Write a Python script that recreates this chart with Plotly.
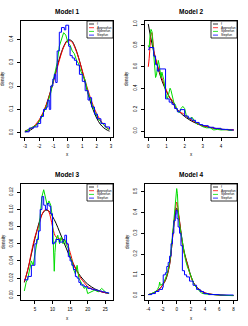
import plotly.graph_objects as go

# ---------------- DATA ----------------
series_names = ["f", "Approxfun", "Splinefun", "Stepfun"]
series_colors = ["#000000", "#FF0000", "#00DD00", "#0000FF"]
titles = ["Model 1", "Model 2", "Model 3", "Model 4"]

# Model 1
m1_x_smooth = [-3.0, -2.75, -2.5, -2.25, -2.0, -1.75, -1.5, -1.25, -1.0, -0.75, -0.5, -0.25,
               0.0, 0.25, 0.5, 0.75, 1.0, 1.25, 1.5, 1.75, 2.0, 2.25, 2.5, 2.75, 2.9]
m1_f = [0.004, 0.008, 0.016, 0.030, 0.050, 0.080, 0.120, 0.170, 0.226, 0.284, 0.336, 0.375,
        0.397, 0.394, 0.366, 0.320, 0.262, 0.202, 0.146, 0.099, 0.063, 0.037, 0.021, 0.011, 0.007]
m1_approx = [0.008, 0.014, 0.022, 0.036, 0.056, 0.085, 0.122, 0.168, 0.220, 0.276, 0.330, 0.372,
             0.394, 0.390, 0.362, 0.318, 0.266, 0.212, 0.162, 0.118, 0.082, 0.055, 0.035, 0.021, 0.015]
m1_x_spline = [-3.0, -2.85, -2.7, -2.55, -2.4, -2.25, -2.1, -1.95, -1.8, -1.65, -1.5, -1.35, -1.2,
               -1.05, -0.9, -0.75, -0.6, -0.45, -0.3, -0.15, 0.0, 0.15, 0.3, 0.45, 0.6, 0.75, 0.9,
               1.05, 1.2, 1.35, 1.5, 1.65, 1.8, 1.95, 2.1, 2.25, 2.4, 2.55, 2.7, 2.85]
m1_spline = [0.006, 0.010, 0.016, 0.022, 0.026, 0.030, 0.040, 0.055, 0.070, 0.095, 0.112, 0.140,
             0.170, 0.215, 0.252, 0.300, 0.370, 0.400, 0.428, 0.418, 0.385, 0.375, 0.350, 0.338,
             0.310, 0.295, 0.262, 0.245, 0.225, 0.180, 0.150, 0.130, 0.100, 0.080, 0.060, 0.050,
             0.038, 0.030, 0.020, 0.014]
m1_x_step = [-3.0, -2.7, -2.4, -2.1, -1.9, -1.7, -1.5, -1.4, -1.3, -1.2, -1.05, -0.95, -0.85,
             -0.75, -0.6, -0.45, -0.25, -0.15, 0.05, 0.15, 0.3, 0.45, 0.6, 0.8, 1.0, 1.2, 1.4,
             1.5, 1.65, 1.85, 2.05, 2.3, 2.6, 2.9]
m1_step = [0.004, 0.020, 0.025, 0.040, 0.070, 0.100, 0.110, 0.140, 0.100, 0.200, 0.230, 0.250,
           0.215, 0.350, 0.430, 0.450, 0.440, 0.460, 0.370, 0.330, 0.320, 0.310, 0.290, 0.250,
           0.220, 0.180, 0.140, 0.150, 0.110, 0.080, 0.060, 0.040, 0.025, 0.015]

# Model 2
m2_x_f = [0.0, 0.1, 0.2, 0.3, 0.4, 0.5, 0.75, 1.0, 1.25, 1.5, 1.75, 2.0, 2.5, 3.0, 3.5, 4.0, 4.5, 4.7]
m2_f = [1.0, 0.905, 0.82, 0.74, 0.67, 0.61, 0.47, 0.37, 0.29, 0.22, 0.174, 0.135, 0.082, 0.05,
        0.03, 0.018, 0.011, 0.009]
m2_x_approx = [0.0, 0.05, 0.1, 0.15, 0.2, 0.25, 0.3, 0.4, 0.5, 0.6, 0.7, 0.8, 0.9, 1.0, 1.1, 1.2,
               1.3, 1.4, 1.5, 1.6, 1.7, 1.8, 1.9, 2.0, 2.2, 2.4, 2.6, 2.8, 3.0, 3.2, 3.4, 3.6,
               3.8, 4.0, 4.3, 4.7]
m2_approx = [0.60, 0.68, 0.80, 0.90, 0.92, 0.85, 0.76, 0.68, 0.62, 0.56, 0.52, 0.47, 0.42, 0.38,
             0.34, 0.31, 0.29, 0.26, 0.22, 0.20, 0.18, 0.17, 0.165, 0.15, 0.12, 0.10, 0.08, 0.06,
             0.045, 0.04, 0.035, 0.025, 0.02, 0.015, 0.012, 0.01]
m2_x_spline = [0.0, 0.05, 0.1, 0.15, 0.2, 0.25, 0.3, 0.35, 0.4, 0.45, 0.5, 0.55, 0.6, 0.65, 0.7,
               0.75, 0.8, 0.85, 0.9, 0.95, 1.0, 1.05, 1.1, 1.15, 1.2, 1.25, 1.3, 1.35, 1.4, 1.5,
               1.6, 1.7, 1.8, 1.9, 2.0, 2.1, 2.2, 2.3, 2.4, 2.5, 2.6, 2.7, 2.8, 2.9, 3.0, 3.2,
               3.4, 3.6, 3.8, 4.0, 4.3, 4.6]
m2_spline = [0.80, 0.78, 0.90, 0.95, 0.93, 0.82, 0.70, 0.55, 0.50, 0.52, 0.60, 0.66, 0.62, 0.55,
             0.50, 0.55, 0.52, 0.48, 0.42, 0.35, 0.32, 0.30, 0.33, 0.38, 0.40, 0.38, 0.33, 0.28,
             0.27, 0.24, 0.19, 0.17, 0.21, 0.23, 0.21, 0.14, 0.12, 0.11, 0.13, 0.10, 0.08, 0.06,
             0.07, 0.05, 0.04, 0.03, 0.03, 0.01, 0.015, 0.01, 0.012, 0.005]
m2_x_step = [0.0, 0.05, 0.3, 0.4, 0.5, 0.6, 0.95, 1.15, 1.3, 1.45, 1.6, 1.75, 2.0, 2.2, 2.4, 2.6,
             2.8, 3.0, 3.3, 3.6, 4.0, 4.4, 4.7]
m2_step = [0.76, 0.78, 0.70, 0.62, 0.56, 0.58, 0.30, 0.27, 0.25, 0.21, 0.18, 0.20, 0.14, 0.12,
           0.10, 0.08, 0.06, 0.05, 0.035, 0.025, 0.015, 0.01, 0.01]

# Model 3
m3_x_f = [2, 3, 4, 5, 6, 7, 8, 9, 10, 11, 12, 13, 14, 15, 16, 17, 18, 19, 20, 21, 22, 23, 24, 25, 26]
m3_f = [0.015, 0.030, 0.048, 0.066, 0.082, 0.094, 0.099, 0.098, 0.092, 0.084, 0.074, 0.064,
        0.054, 0.044, 0.036, 0.028, 0.022, 0.017, 0.013, 0.010, 0.0075, 0.0055, 0.004, 0.003, 0.002]
m3_x_approx = [2, 3, 4, 5, 6, 7, 7.5, 8, 8.5, 9, 9.5, 10, 10.5, 11, 12, 13, 14, 15, 16, 17, 18,
               19, 20, 21, 22, 23, 24, 25, 26]
m3_approx = [0.016, 0.030, 0.050, 0.068, 0.080, 0.094, 0.098, 0.100, 0.100, 0.097, 0.090, 0.080,
             0.072, 0.068, 0.066, 0.065, 0.062, 0.050, 0.036, 0.028, 0.020, 0.015, 0.010, 0.008,
             0.006, 0.005, 0.004, 0.003, 0.002]
m3_x_spline = [2, 2.5, 3, 3.5, 4, 4.5, 5, 5.5, 6, 6.5, 7, 7.5, 8, 8.5, 9, 9.5, 10, 10.3, 10.5,
               10.7, 11, 11.5, 12, 12.5, 13, 13.5, 14, 14.5, 15, 15.5, 16, 16.5, 17, 17.5, 18,
               18.5, 19, 19.5, 20, 21, 22, 23, 24, 25, 26]
m3_spline = [0.005, 0.015, 0.020, 0.030, 0.040, 0.035, 0.050, 0.060, 0.070, 0.090, 0.115, 0.123,
             0.115, 0.105, 0.110, 0.105, 0.090, 0.060, 0.028, 0.050, 0.065, 0.070, 0.060, 0.068,
             0.060, 0.065, 0.058, 0.055, 0.045, 0.040, 0.030, 0.025, 0.035, 0.020, 0.015, 0.012,
             0.008, 0.010, 0.002, 0.004, 0.006, 0.004, 0.008, 0.004, 0.002]
m3_x_step = [2, 3, 4, 5, 5.5, 6, 6.5, 7, 7.5, 8, 8.5, 9, 9.5, 10, 10.5, 11, 12, 13, 13.5, 14,
             14.5, 15, 15.5, 16, 16.5, 17, 17.5, 18, 19, 20, 21, 22, 23, 24, 25, 26]
m3_step = [0.018, 0.022, 0.035, 0.060, 0.065, 0.075, 0.100, 0.115, 0.105, 0.100, 0.107, 0.104,
           0.095, 0.060, 0.062, 0.065, 0.062, 0.065, 0.070, 0.060, 0.045, 0.040, 0.035, 0.030,
           0.022, 0.020, 0.015, 0.012, 0.010, 0.008, 0.007, 0.006, 0.005, 0.004, 0.003, 0.002]

# Model 4
m4_x_f = [-4, -3.5, -3, -2.5, -2, -1.5, -1, -0.75, -0.5, -0.25, 0, 0.25, 0.5, 0.75, 1, 1.25, 1.5,
          2, 2.5, 3, 3.5, 4, 5, 6, 7, 8]
m4_f = [0.005, 0.010, 0.017, 0.030, 0.050, 0.080, 0.150, 0.220, 0.310, 0.380, 0.420, 0.390,
        0.330, 0.270, 0.220, 0.185, 0.155, 0.095, 0.055, 0.035, 0.022, 0.013, 0.006, 0.003,
        0.001, 0.0005]
m4_approx = [0.005, 0.010, 0.018, 0.030, 0.050, 0.085, 0.150, 0.220, 0.310, 0.390, 0.450, 0.400,
             0.330, 0.260, 0.210, 0.180, 0.150, 0.090, 0.055, 0.033, 0.020, 0.012, 0.006, 0.003,
             0.001, 0.0005]
m4_x_spline = [-4, -3.5, -3, -2.7, -2.5, -2.4, -2.3, -2, -1.75, -1.5, -1.25, -1, -0.75, -0.5,
               -0.3, -0.15, 0, 0.1, 0.25, 0.5, 0.75, 1, 1.25, 1.5, 2, 2.5, 3, 3.5, 4, 4.5, 5,
               6, 7, 8]
m4_spline = [0.005, 0.010, 0.020, 0.030, 0.045, 0.065, 0.050, 0.055, 0.070, 0.090, 0.120, 0.160,
             0.230, 0.320, 0.400, 0.480, 0.515, 0.490, 0.380, 0.320, 0.270, 0.200, 0.170, 0.140,
             0.090, 0.050, 0.030, 0.012, 0.008, 0.006, 0.005, 0.003, 0.001, 0.0]
m4_x_step = [-4, -3.5, -3, -2.5, -2, -1.9, -1.6, -1.4, -1.2, -1, -0.8, -0.6, -0.4, -0.2, -0.1,
             0.05, 0.2, 0.4, 0.6, 0.8, 1.1, 1.4, 1.8, 2.3, 2.8, 3.3, 3.8, 4.5, 6, 8]
m4_step = [0.005, 0.010, 0.020, 0.030, 0.040, 0.100, 0.110, 0.140, 0.160, 0.190, 0.250, 0.300,
           0.360, 0.390, 0.410, 0.370, 0.330, 0.300, 0.240, 0.120, 0.100, 0.090, 0.070, 0.050,
           0.030, 0.020, 0.010, 0.005, 0.003, 0.002]

x_ticks = [[-3, -2, -1, 0, 1, 2, 3], [0, 1, 2, 3, 4], [5, 10, 15, 20, 25], [-4, -2, 0, 2, 4, 6, 8]]
y_ticks = [[0.0, 0.1, 0.2, 0.3, 0.4], [0.0, 0.2, 0.4, 0.6, 0.8, 1.0],
           [0.00, 0.02, 0.04, 0.06, 0.08, 0.10, 0.12], [0.0, 0.1, 0.2, 0.3, 0.4, 0.5]]
y_formats = [".1f", ".1f", ".2f", ".1f"]
x_ranges = [[-3.27, 3.14], [-0.18, 4.88], [1.05, 27.2], [-4.47, 8.5]]
y_ranges = [[-0.018, 0.478], [-0.056, 1.028], [-0.0055, 0.1297], [-0.021, 0.537]]

models = [
    [(m1_x_smooth, m1_f), (m1_x_smooth, m1_approx), (m1_x_spline, m1_spline), (m1_x_step, m1_step)],
    [(m2_x_f, m2_f), (m2_x_approx, m2_approx), (m2_x_spline, m2_spline), (m2_x_step, m2_step)],
    [(m3_x_f, m3_f), (m3_x_approx, m3_approx), (m3_x_spline, m3_spline), (m3_x_step, m3_step)],
    [(m4_x_f, m4_f), (m4_x_f, m4_approx), (m4_x_spline, m4_spline), (m4_x_step, m4_step)],
]

# ---------------- LAYOUT ----------------
W, H = 248, 326
panels_px = [(21, 21, 113, 137), (145, 21, 237, 137), (21, 184, 113, 300), (145, 184, 237, 300)]
FONT = "Liberation Sans"


def px(x):
    return x / W


def py(y):
    return 1 - y / H


fig = go.Figure()
shapes = []
annotations = []
layout_axes = {}

for i, (L, T, R, B) in enumerate(panels_px):
    n = i + 1
    xa = "x" if n == 1 else f"x{n}"
    ya = "y" if n == 1 else f"y{n}"
    for j, (xs, ys) in enumerate(models[i]):
        fig.add_trace(go.Scatter(
            x=xs, y=ys, mode="lines", xaxis=xa, yaxis=ya, showlegend=False,
            name=series_names[j],
            line=dict(color=series_colors[j], width=1,
                      shape="hv" if j == 3 else ("spline" if j in (0, 1) else "linear")),
        ))
    axis_common = dict(showgrid=False, zeroline=False, showline=True, linecolor="#000000",
                       linewidth=1, mirror=True, ticks="outside", ticklen=3, tickwidth=1,
                       tickcolor="#000000", tickfont=dict(family=FONT, size=4.5, color="#000000"))
    layout_axes[("xaxis" if n == 1 else f"xaxis{n}")] = dict(
        axis_common, domain=[px(L), px(R)], range=x_ranges[i], anchor=ya,
        tickvals=x_ticks[i], ticktext=[str(v) for v in x_ticks[i]], ticklabelstandoff=2)
    layout_axes[("yaxis" if n == 1 else f"yaxis{n}")] = dict(
        axis_common, domain=[py(B), py(T)], range=y_ranges[i], anchor=xa,
        tickvals=y_ticks[i], tickformat=y_formats[i], tickangle=-90, ticklabelstandoff=2)

    # titles and axis labels
    centered = dict(xref="paper", yref="paper", showarrow=False,
                    xanchor="center", yanchor="middle")
    annotations.append(dict(centered, x=px((L + R) / 2), y=py(T - 10),
                            text=f"<b>{titles[i]}</b>",
                            font=dict(family=FONT, size=6.5, color="#000000")))
    annotations.append(dict(centered, x=px((L + R) / 2), y=py(B + 18), text="x",
                            font=dict(family=FONT, size=4.5, color="#000000")))
    annotations.append(dict(centered, x=px(L - 18), y=py((T + B) / 2), text="density",
                            textangle=-90,
                            font=dict(family=FONT, size=4.5, color="#000000")))

    # legend box
    lx0, ly0, lx1, ly1 = R - 26, T, R, T + 17
    shapes.append(dict(type="rect", xref="paper", yref="paper", x0=px(lx0), x1=px(lx1),
                       y0=py(ly1), y1=py(ly0), line=dict(color="#000000", width=0.8),
                       fillcolor="white", layer="above"))
    for j, name in enumerate(series_names):
        yy = ly0 + 3 + j * 3.7
        shapes.append(dict(type="line", xref="paper", yref="paper", x0=px(lx0 + 2),
                           x1=px(lx0 + 7), y0=py(yy), y1=py(yy),
                           line=dict(color=series_colors[j], width=0.8), layer="above"))
        annotations.append(dict(x=px(lx0 + 8), y=py(yy), xref="paper", yref="paper",
                                text=name, showarrow=False, xanchor="left", yanchor="middle",
                                font=dict(family=FONT, size=3.2, color="#000000")))

fig.update_layout(
    width=W, height=H, autosize=False,
    margin=dict(l=0, r=0, t=0, b=0),
    paper_bgcolor="white", plot_bgcolor="white",
    showlegend=False, shapes=shapes, annotations=annotations,
    **layout_axes,
)

fig.write_html("out.html", config={"displayModeBar": False},
               post_script="document.body.style.margin='0';document.body.style.overflow='hidden';")
